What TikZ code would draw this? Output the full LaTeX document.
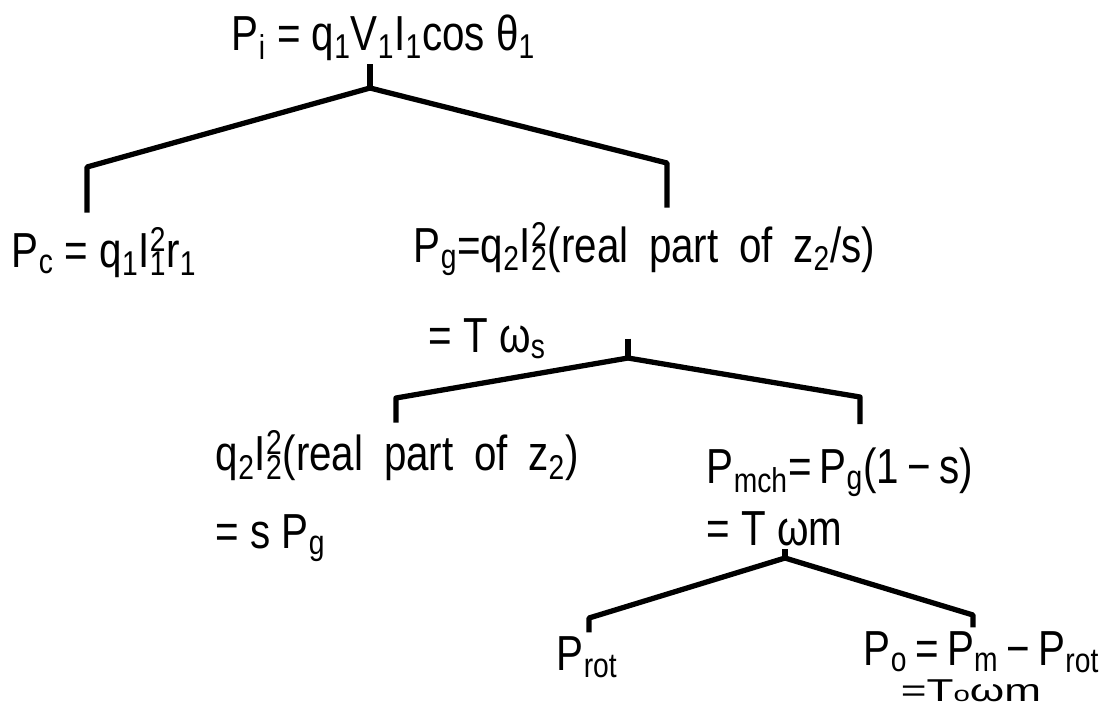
\documentclass[tikz,border=0pt]{standalone}
\usepackage{fontspec}
\setmainfont{Liberation Sans}[FakeStretch=0.82]
\usetikzlibrary{positioning}

\newcommand\sbs[1]{\textsubscript{#1}}
\newcommand\sbsp[2]{\rlap{\textsuperscript{#1}}\textsubscript{#2}}
\newcommand\wsp{\hspace{0.42em}}

\begin{document}
\begin{tikzpicture}[
	x=0.02cm, y=-0.02cm,
	term/.style={inner sep=2pt, anchor=base west,
		font=\fontsize{28}{32}\selectfont},
	branch/.style={line width=3pt, line join=round},
	stem/.style={line width=3pt}
	]
	\useasboundingbox (0,0) rectangle (1099,708);
	% input power
	\node[term] (pi) at (228,50) {P\sbs{i} = q\sbs{1}V\sbs{1}I\sbs{1}cos θ\sbs{1}};
	% stator loss and air gap power
	\node[term] (pc) at (8,267) {P\sbs{c} = q\sbs{1}I\sbsp{2}{1}r\sbs{1}};
	\node[term] (pg) at (410,262)
		{P\sbs{g}=q\sbs{2}I\sbsp{2}{2}(real\wsp part\wsp of\wsp z\sbs{2}/s)};
	\node[term] (pgt) at (425,352) {= T ω\sbs{s}};
	% rotor loss and mechanical power
	\node[term] (loss) at (212,470) {q\sbs{2}I\sbsp{2}{2}(real\wsp part\wsp of\wsp z\sbs{2})};
	\node[term] (lossb) at (212,548) {= s P\sbs{g}};
	\node[term] (mch) at (703,483) {P\sbs{mch}=\,P\sbs{g}(1\,−\,s)};
	\node[term] (mcht) at (703,545) {= T ωm};
	% rotational loss and output
	\node[term] (rot) at (553,670) {P\sbs{rot}};
	\node[term] (out) at (860,665) {P\sbs{o}\,=\,P\sbs{m}\,−\,P\sbs{rot}};
	\node[term, font=\fontsize{18}{20}\selectfont] (outt) at (897,701)
		{\scalebox{1.7}[1]{=T{\fontsize{12}{12}\selectfont o}ωm}};

	\coordinate (j1) at (370,88);
	\coordinate (k1) at (87,167);
	\coordinate (k2) at (667,163);
	\coordinate (j2) at (628,358);
	\coordinate (k3) at (396,398);
	\coordinate (k4) at (860,397);
	\coordinate (j3) at (785,558);
	\coordinate (k5) at (589,618);
	\coordinate (k6) at (973,615);

	\draw[stem] (j1 |- pi.south) -- (j1);
	\draw[branch, shorten <=6pt, shorten >=6pt]
		(k1 |- pc.north) -- (k1) -- (j1) -- (k2) -- (k2 |- pg.north);
	\draw[stem] (j2 |- pgt.center) -- (j2);
	\draw[branch, shorten <=2pt, shorten >=11pt]
		(k3 |- loss.north) -- (k3) -- (j2) -- (k4) -- (k4 |- mch.north);
	\draw[stem] (j3 |- mcht.south) -- (j3);
	\draw[branch] (k5 |- rot.north) -- (k5) -- (j3) -- (k6) -- (k6 |- out.north);
\end{tikzpicture}
\end{document}
